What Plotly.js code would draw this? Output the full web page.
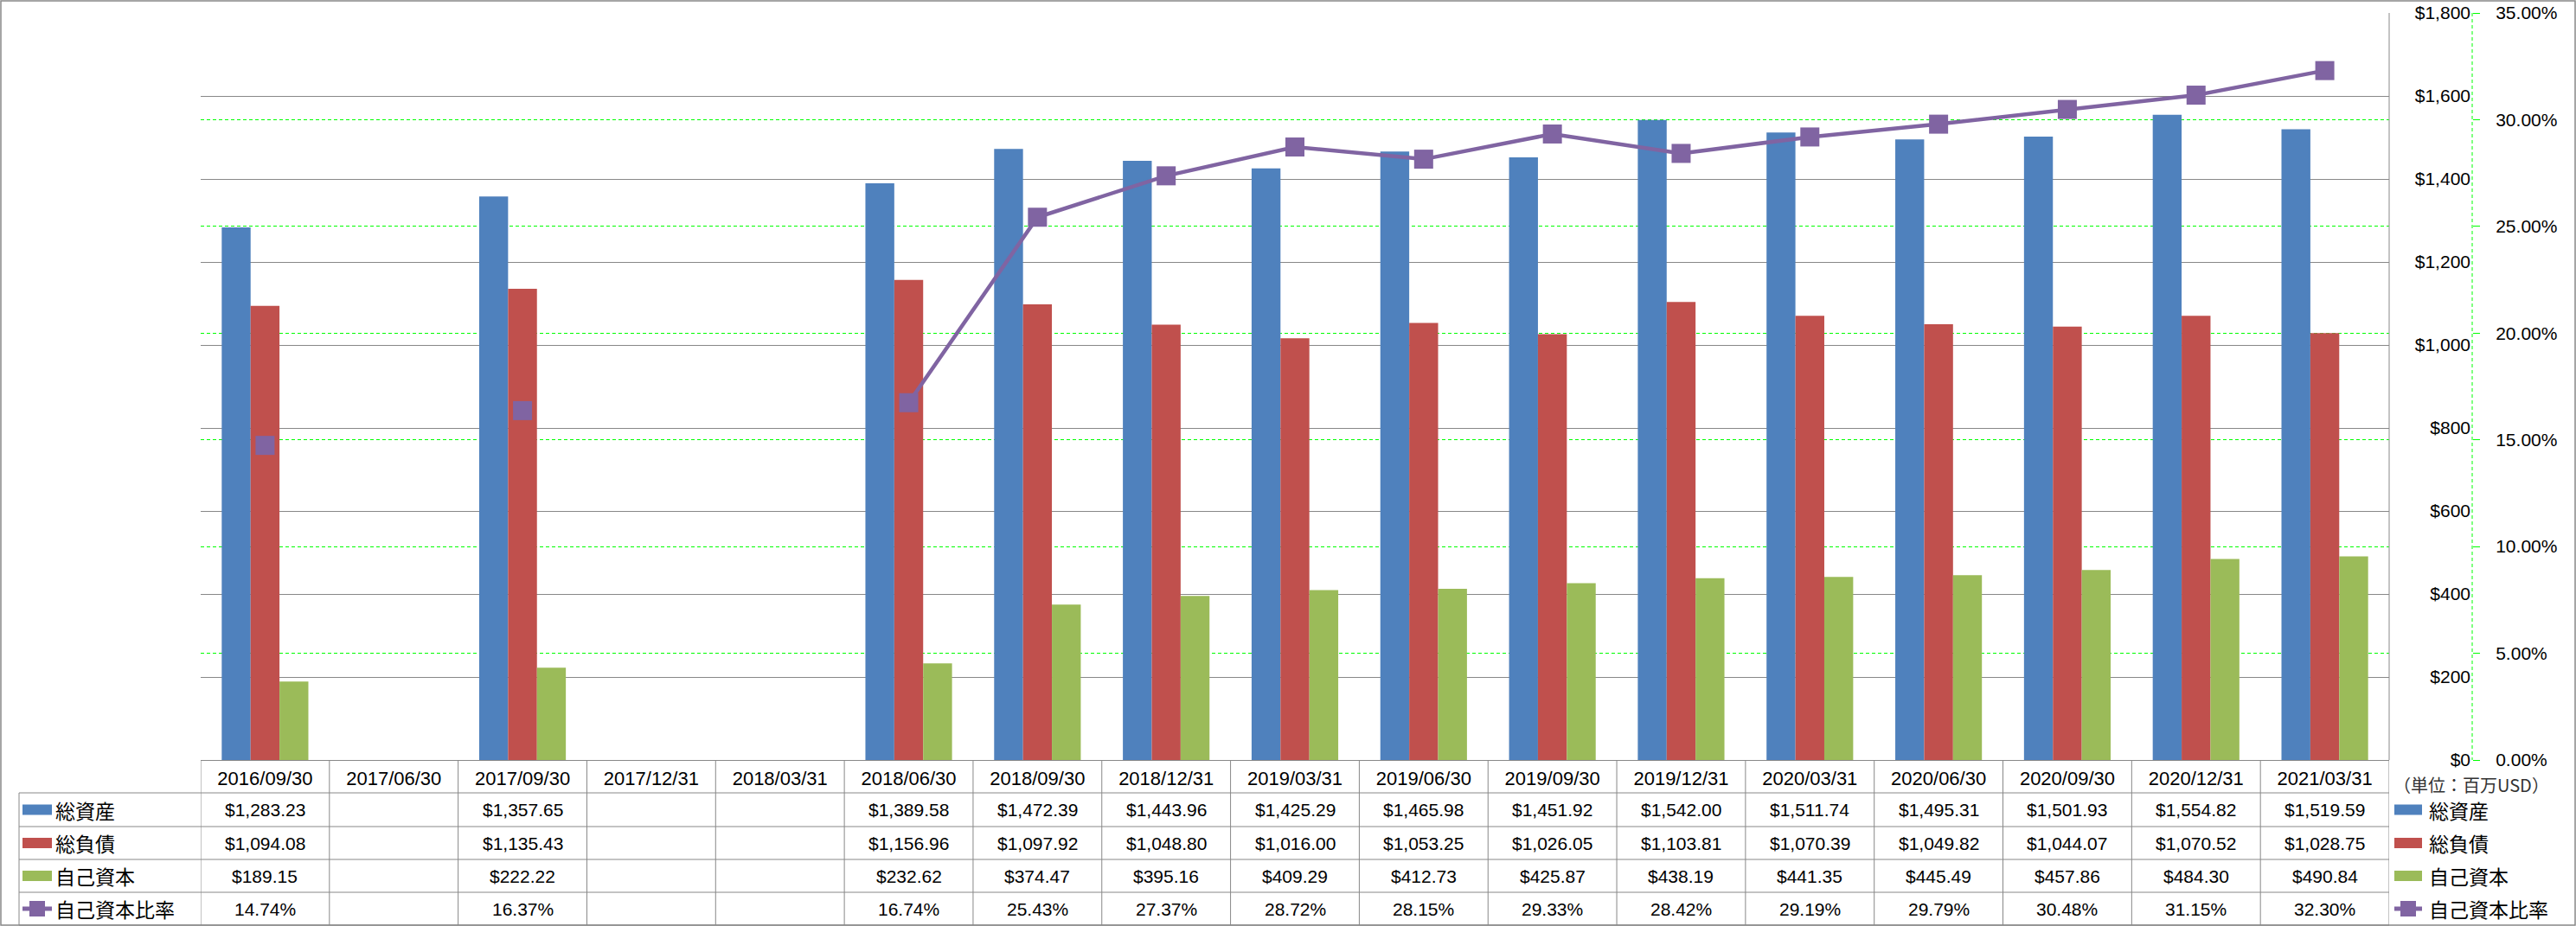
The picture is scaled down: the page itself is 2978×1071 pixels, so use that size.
<!DOCTYPE html>
<html><head><meta charset="utf-8">
<script src="https://cdn.plot.ly/plotly-3.0.1.min.js"></script>
<style>html,body{margin:0;padding:0;background:#fff}#chart{width:2978px;height:1071px}</style>
</head><body><div id="chart"></div>
<script>
const categories = ['2016/09/30','2017/06/30','2017/09/30','2017/12/31','2018/03/31','2018/06/30','2018/09/30','2018/12/31','2019/03/31','2019/06/30','2019/09/30','2019/12/31','2020/03/31','2020/06/30','2020/09/30','2020/12/31','2021/03/31'];
const totalAssets = [1283.23,null,1357.65,null,null,1389.58,1472.39,1443.96,1425.29,1465.98,1451.92,1542.00,1511.74,1495.31,1501.93,1554.82,1519.59];
const totalLiabilities = [1094.08,null,1135.43,null,null,1156.96,1097.92,1048.80,1016.00,1053.25,1026.05,1103.81,1070.39,1049.82,1044.07,1070.52,1028.75];
const equity = [189.15,null,222.22,null,null,232.62,374.47,395.16,409.29,412.73,425.87,438.19,441.35,445.49,457.86,484.30,490.84];
const equityRatio = [14.74,null,16.37,null,null,16.74,25.43,27.37,28.72,28.15,29.33,28.42,29.19,29.79,30.48,31.15,32.30];
const seriesNames = ['総資産','総負債','自己資本','自己資本比率'];
const unitLabel = '（単位：百万USD）';

const W = 2978, H = 1071;
const px = x => x / W, py = y => 1 - y / H;
const C = {blue:'#4F81BD', red:'#C0504D', green:'#9BBB59', purple:'#8064A2', grid:'#888888', lime:'#00FF00'};
const NUM_FONT = 'Liberation Sans, Arial, sans-serif';
const JP_FONT = 'Noto Sans CJK JP, sans-serif';

const plotL = 232, plotR = 2762, plotT = 15, plotB = 879, axisX = 2858;
const rowLines = [917, 956, 994, 1032, 1070];
const rowCenters = [936.5, 975, 1013, 1051];
const seriesColors = [C.blue, C.red, C.green, C.purple];

const traces = [
  {type:'bar', name:seriesNames[0], x:categories, y:totalAssets, marker:{color:C.blue}},
  {type:'bar', name:seriesNames[1], x:categories, y:totalLiabilities, marker:{color:C.red}},
  {type:'bar', name:seriesNames[2], x:categories, y:equity, marker:{color:C.green}},
  {type:'scatter', mode:'lines+markers', name:seriesNames[3], x:categories, y:equityRatio, yaxis:'y2',
   line:{color:C.purple, width:4.5}, marker:{symbol:'square', size:22, color:C.purple, line:{width:0}}}
];

const fmtMoney = v => '$' + v.toLocaleString('en-US', {minimumFractionDigits:2, maximumFractionDigits:2});
const fmtPct = v => v.toFixed(2) + '%';
const rowData = [totalAssets, totalLiabilities, equity, equityRatio];
const rowFmt = [fmtMoney, fmtMoney, fmtMoney, fmtPct];

const annotations = [];
const shapes = [];

// table cells
rowData.forEach((arr, r) => {
  arr.forEach((v, i) => {
    if (v === null) return;
    annotations.push({xref:'x', yref:'paper', x:categories[i], y:py(rowCenters[r]), text:rowFmt[r](v),
      showarrow:false, xanchor:'center', yanchor:'middle', font:{family:NUM_FONT, size:21, color:'#000'}});
  });
});

// legend keys (left column and right side)
[[26, 60, 62], [2768, 2800, 2806]].forEach(([k0, k1, tx]) => {
  seriesNames.forEach((name, r) => {
    const yc = rowCenters[r];
    if (r < 3) {
      shapes.push({type:'rect', xref:'paper', yref:'paper', x0:px(k0), x1:px(k1), y0:py(yc+6), y1:py(yc-6),
        fillcolor:seriesColors[r], line:{width:0}});
    } else {
      shapes.push({type:'line', xref:'paper', yref:'paper', x0:px(k0), x1:px(k1), y0:py(yc), y1:py(yc),
        line:{color:C.purple, width:5}});
      const m = (k0 + k1) / 2;
      shapes.push({type:'rect', xref:'paper', yref:'paper', x0:px(m-9), x1:px(m+9), y0:py(yc+9), y1:py(yc-9),
        fillcolor:C.purple, line:{width:0}});
    }
    annotations.push({xref:'paper', yref:'paper', x:px(tx), y:py(yc), text:name, showarrow:false,
      xanchor:'left', yanchor:'middle', font:{family:JP_FONT, size:23, color:'#000'}});
  });
});

annotations.push({xref:'paper', yref:'paper', x:px(2857), y:py(907), text:unitLabel, showarrow:false,
  xanchor:'center', yanchor:'middle', font:{family:JP_FONT, size:20, color:'#333'}});

// table grid
for (let i = 0; i <= categories.length; i++) {
  shapes.push({type:'line', xref:'x', yref:'paper', x0:i-0.5, x1:i-0.5, y0:py(plotB), y1:py(1070),
    line:{color:C.grid, width:1}});
}
rowLines.forEach(y => shapes.push({type:'line', xref:'paper', yref:'paper', x0:px(22), x1:px(plotR), y0:py(y), y1:py(y),
  line:{color:C.grid, width:1}}));
shapes.push({type:'line', xref:'paper', yref:'paper', x0:px(22), x1:px(22), y0:py(917), y1:py(1070), line:{color:C.grid, width:1}});
// plot right border
shapes.push({type:'line', xref:'paper', yref:'paper', x0:px(plotR), x1:px(plotR), y0:py(plotT), y1:py(plotB), line:{color:C.grid, width:1}});
// secondary axis dashed line
shapes.push({type:'line', xref:'paper', yref:'paper', x0:px(axisX), x1:px(axisX), y0:py(plotT), y1:py(plotB), line:{color:C.lime, width:1, dash:'4px,3px'}});
// outer border
shapes.push({type:'rect', xref:'paper', yref:'paper', x0:px(1), x1:px(W-1), y0:py(H-1), y1:py(1), line:{color:C.grid, width:1.5}, fillcolor:'rgba(0,0,0,0)'});

const layout = {
  width:W, height:H, margin:{l:0, r:0, t:0, b:0, pad:0},
  paper_bgcolor:'#fff', plot_bgcolor:'rgba(0,0,0,0)',
  showlegend:false, barmode:'group', bargap:0.327, bargroupgap:0,
  xaxis:{type:'category', domain:[px(plotL), px(plotR)], range:[-0.5, 16.5], showgrid:false, zeroline:false,
    showline:true, linecolor:C.grid, linewidth:1, ticks:'', ticklabelstandoff:2,
    tickfont:{family:NUM_FONT, size:22, color:'#000'}, automargin:false, fixedrange:true},
  yaxis:{domain:[py(plotB), py(plotT)], range:[0, 1800], dtick:200, tick0:0, side:'left', anchor:'free', position:px(axisX),
    tickprefix:'$', tickformat:',d', showgrid:true, gridcolor:C.grid, gridwidth:1, zeroline:false, showline:false,
    ticks:'', ticklabelstandoff:2, tickfont:{family:NUM_FONT, size:21, color:'#000'}, automargin:false},
  yaxis2:{overlaying:'y', side:'right', anchor:'free', position:px(axisX), range:[0, 35], dtick:5, tick0:0,
    ticksuffix:'%', tickformat:'.2f', showgrid:true, gridcolor:C.lime, gridwidth:1, griddash:'4px,3px',
    zeroline:false, showline:false, ticks:'outside', ticklen:8, tickcolor:C.lime, tickwidth:1, ticklabelstandoff:14,
    tickfont:{family:NUM_FONT, size:21, color:'#000'}, automargin:false},
  annotations, shapes, hovermode:false
};

Plotly.newPlot('chart', traces, layout, {staticPlot:true, displayModeBar:false});
</script></body></html>
